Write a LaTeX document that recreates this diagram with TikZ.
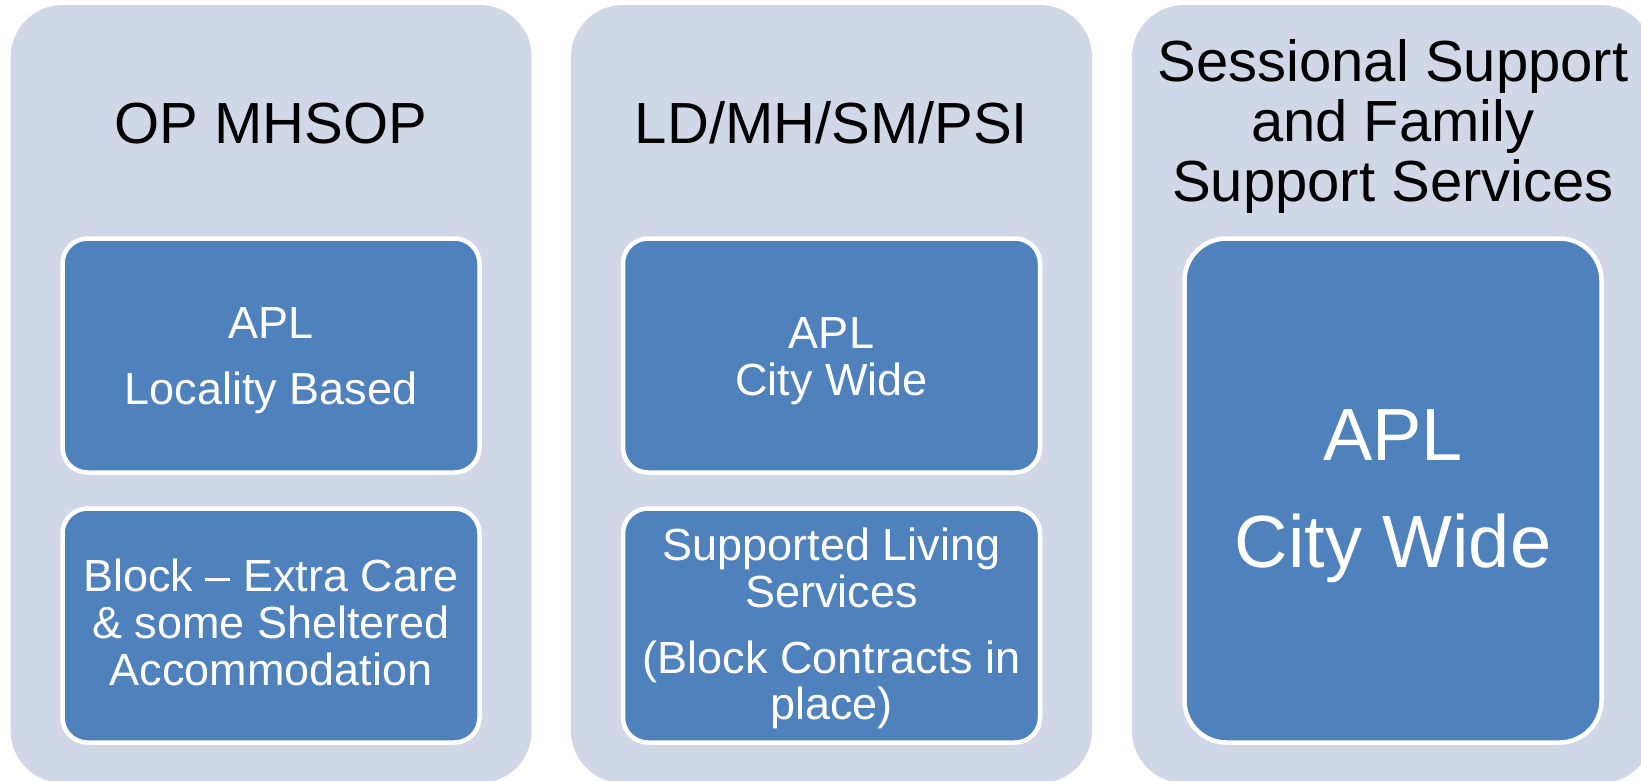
\documentclass[tikz,border=0pt]{standalone}
\usepackage{fontspec}
\setmainfont{Liberation Sans}
\definecolor{panelfill}{HTML}{D0D8E8}
\definecolor{cardfill}{HTML}{4F81BD}
\begin{document}
\begin{tikzpicture}[x=1pt,y=-1pt,
  panel/.style={fill=panelfill, draw=none, rounded corners=52pt,
    minimum width=521pt, minimum height=778pt, inner sep=0pt, outer sep=0pt},
  card/.style={fill=cardfill, draw=white, line width=4.5pt, rounded corners=25pt,
    minimum width=417pt, minimum height=234pt, inner sep=0pt},
  tallcard/.style={card, rounded corners=42pt, minimum height=504pt},
  hdr/.style={anchor=base, inner sep=0pt, text=black,
    font=\fontsize{58}{60}\selectfont},
  lbl/.style={anchor=base, inner sep=0pt, text=white,
    font=\fontsize{45}{48}\selectfont},
  biglbl/.style={anchor=base, inner sep=0pt, text=white,
    font=\fontsize{74}{80}\selectfont}
]
\useasboundingbox (0,0) rectangle (1641,780);
\clip (0,0) rectangle (1641,780);

% three column panels
\node[panel] (p1) at (271.2,394) {};
\node[panel] (p2) at (831.5,394) {};
\node[panel] (p3) at (1392.5,394) {};

% service cards
\node[card] (c1a) at (271,355.5) {};
\node[card] (c1b) at (271,625.5) {};
\node[card] (c2a) at (831.5,355.5) {};
\node[card] (c2b) at (831.5,625.5) {};
\node[tallcard] (c3) at (1393,490.5) {};

% column headings
\node[hdr] (h1) at (271,143) {OP MHSOP};
\node[hdr] (h2) at (831.5,143) {LD/MH/SM/PSI};
\node[hdr] (h3a) at (1393,81) {Sessional Support};
\node[hdr] (h3b) at (1393,141) {and Family};
\node[hdr] (h3c) at (1393,201) {Support Services};

% first column cards
\node[lbl] (l1a) at (271,338) {APL};
\node[lbl] (l1b) at (271,404) {Locality Based};
\node[lbl] (l1c) at (271,591) {Block – Extra Care};
\node[lbl] (l1d) at (271,638) {\& some Sheltered};
\node[lbl] (l1e) at (271,685) {Accommodation};

% second column cards
\node[lbl] (l2a) at (831.5,348.5) {APL};
\node[lbl] (l2b) at (831.5,395.5) {City Wide};
\node[lbl] (l2c) at (831.5,560) {Supported Living};
\node[lbl] (l2d) at (831.5,607) {Services};
\node[lbl] (l2e) at (831.5,673) {(Block Contracts in};
\node[lbl] (l2f) at (831.5,719) {place)};

% third column card
\node[biglbl] (l3a) at (1393,460) {APL};
\node[biglbl] (l3b) at (1393,567) {City Wide};
\end{tikzpicture}
\end{document}
